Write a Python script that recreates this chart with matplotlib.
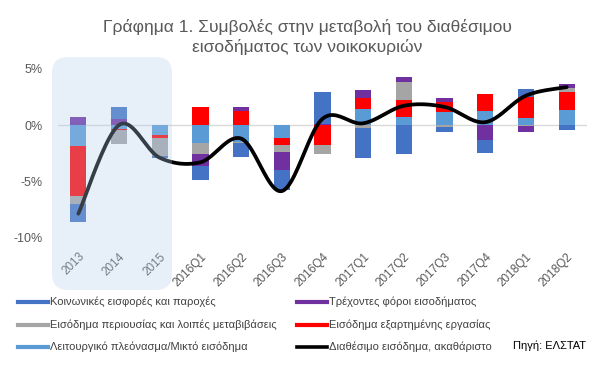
import numpy as np
import matplotlib
matplotlib.use('Agg')
import matplotlib.pyplot as plt
import matplotlib.patches as patches
from matplotlib.lines import Line2D
from matplotlib.transforms import IdentityTransform

plt.rcParams['font.family'] = ['Liberation Sans', 'DejaVu Sans']

# categories and contributions (percentage points)
periods = ['2013', '2014', '2015', '2016Q1', '2016Q2', '2016Q3', '2016Q4',
           '2017Q1', '2017Q2', '2017Q3', '2017Q4', '2018Q1', '2018Q2']
social = [-1.6, 1.05, -0.2, -1.18, -1.2, -1.83, 2.8, -2.66, -2.53, -0.5, -1.18, 0.68, -0.4]
property_inc = [-0.7, -1.2, -1.55, -1.03, -0.1, -0.6, -0.73, -0.3, 1.56, -0.15, 0.0, -0.1, 0.35]
surplus = [-1.9, -0.35, -0.85, -1.58, -1.5, -1.15, 0.0, 1.42, 0.73, 1.12, 1.27, 0.62, 1.36]
taxes = [0.7, 0.55, 0.0, -1.06, 0.35, -1.56, 0.1, 0.75, 0.44, 0.35, -1.33, -0.5, 0.3]
wages = [-4.36, -0.12, -0.3, 1.56, 1.24, -0.65, -1.8, 0.94, 1.5, 0.88, 1.47, 1.9, 1.6]
disposable = [-7.85, 0.0, -2.9, -3.3, -1.2, -5.85, 0.55, 0.15, 1.7, 1.6, 0.25, 2.6, 3.35]

LABELS = {
    'social': 'Κοινωνικές εισφορές και παροχές',
    'property': 'Εισόδημα περιουσίας και λοιπές μεταβιβάσεις',
    'surplus': 'Λειτουργικό πλεόνασμα/Μικτό εισόδημα',
    'taxes': 'Τρέχοντες φόροι εισοδήματος',
    'wages': 'Εισόδημα εξαρτημένης εργασίας',
    'line': 'Διαθέσιμο εισόδημα, ακαθάριστο',
}
COLORS = {
    'social': '#4472C4',
    'property': '#A5A5A5',
    'surplus': '#5B9BD5',
    'taxes': '#7030A0',
    'wages': '#FF0000',
    'line': '#000000',
}
TEXT = '#595959'


def smooth(xs, ys, n=24):
    """Bezier smoothing like the spreadsheet 'smoothed line' option."""
    pts = np.column_stack([xs, ys]).astype(float)
    pad = np.vstack([pts[0], pts, pts[-1]])
    t = np.linspace(0, 1, n)[:, None]
    segs = []
    for i in range(len(pts) - 1):
        p0, p1, p2, p3 = pad[i], pad[i + 1], pad[i + 2], pad[i + 3]
        c1 = p1 + (p2 - p0) / 6
        c2 = p2 - (p3 - p1) / 6
        segs.append((1 - t) ** 3 * p1 + 3 * (1 - t) ** 2 * t * c1
                    + 3 * (1 - t) * t ** 2 * c2 + t ** 3 * p2)
    return np.vstack(segs)


fig = plt.figure(figsize=(6.14, 3.87), dpi=100)
ax = fig.add_axes([58 / 614, 1 - 238 / 387, 529 / 614, 169.5 / 387])

x = np.arange(len(periods))
# stacking order outward from zero
stack = [('surplus', surplus), ('wages', wages), ('property', property_inc),
         ('taxes', taxes), ('social', social)]
pos = np.zeros(len(x))
neg = np.zeros(len(x))
for key, vals in stack:
    v = np.array(vals)
    p = np.where(v > 0, v, 0)
    n = np.where(v < 0, v, 0)
    ax.bar(x, p, 0.4, bottom=pos, color=COLORS[key], zorder=2)
    ax.bar(x, n, 0.4, bottom=neg, color=COLORS[key], zorder=2)
    pos += p
    neg += n

curve = smooth(x, disposable)
ax.plot(curve[:, 0], curve[:, 1], color='black', lw=2.7, zorder=3,
        solid_capstyle='round')

ax.axhline(0, color='#D9D9D9', lw=1, zorder=1)
ax.set_xlim(-0.5, len(periods) - 0.5)
ax.set_ylim(-10, 5)
ax.set_yticks([5, 0, -5, -10])
ax.set_yticklabels(['5%', '0%', '-5%', '-10%'], fontsize=9, color=TEXT)
ax.set_xticks(x)
ax.set_xticklabels(periods, rotation=45, ha='right', rotation_mode='anchor',
                   fontsize=8.5, color=TEXT)
ax.tick_params(length=0, axis='both')
ax.tick_params(axis='x', pad=9)
ax.tick_params(axis='y', pad=11)
for s in ax.spines.values():
    s.set_visible(False)

# title
fig.text(0.5, 1 - 27 / 387, 'Γράφημα 1. Συμβολές στην μεταβολή του διαθέσιμου',
         ha='center', va='center', fontsize=12.5, color=TEXT)
fig.text(0.5, 1 - 47 / 387, 'εισοδήματος των νοικοκυριών',
         ha='center', va='center', fontsize=12.5, color=TEXT)

# shaded annual block
shade = patches.FancyBboxPatch((52, 387 - 290), 120, 233,
                               boxstyle='round,pad=0,rounding_size=16',
                               transform=IdentityTransform(),
                               facecolor='#B2D0EE', edgecolor='none',
                               alpha=0.3, zorder=5)
fig.patches.append(shade)

# legend
entries = [
    ('social', 18, 302), ('property', 18, 325), ('surplus', 18, 347),
    ('taxes', 297, 302), ('wages', 297, 325), ('line', 297, 347),
]
for key, px, py in entries:
    yy = 1 - py / 387
    lw = 2.6 if key == 'line' else 3.0
    fig.add_artist(Line2D([px / 614, (px + 30) / 614], [yy, yy],
                          color=COLORS[key], lw=lw,
                          transform=fig.transFigure))
    fig.text((px + 32) / 614, yy, LABELS[key], ha='left', va='center',
             fontsize=8, color='#404040')

fig.text(513 / 614, 1 - 346 / 387, 'Πηγή: ΕΛΣΤΑΤ', ha='left', va='center',
         fontsize=8, color='#000000')

fig.savefig('out.png', dpi=100, facecolor='white')
